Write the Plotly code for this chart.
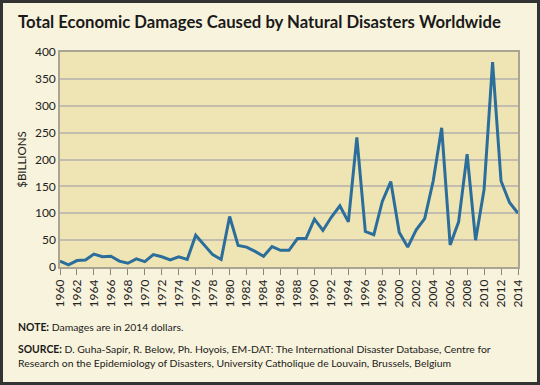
import plotly.graph_objects as go

years = list(range(1960, 2015))
damages = [11, 4, 12, 13, 24, 19, 20, 11, 7, 15,
           10, 23, 19, 13, 19, 14, 59, 40, 23, 14,
           94, 40, 37, 29, 20, 38, 31, 31, 53, 53,
           89, 68, 93, 114, 84, 241, 66, 60, 122, 159,
           64, 37, 69, 90, 160, 259, 41, 84, 210, 50,
           144, 381, 160, 120, 100]
tick_years = list(range(1960, 2015, 2))
y_ticks = [0, 50, 100, 150, 200, 250, 300, 350, 400]

W, H = 540, 385
L, R, T, B = 60, 22, 52, 118
pw, ph = W - L - R, H - T - B

def px(x):
    return (x - L) / pw

def py(y):
    return (H - B - y) / ph

fig = go.Figure()
fig.add_trace(go.Scatter(x=years, y=damages, mode="lines",
                         line=dict(color="#2c6e9b", width=3), hoverinfo="x+y"))

fig.update_layout(
    width=W, height=H,
    margin=dict(l=L, r=R, t=T, b=B),
    paper_bgcolor="#f8f3dc",
    plot_bgcolor="#efe5b4",
    showlegend=False,
    font=dict(family="Lato", color="#222222", size=11),
    xaxis=dict(range=[1960, 2014], tickvals=tick_years, ticktext=[str(y) for y in tick_years],
               tickangle=-90, ticks="outside", ticklen=6, tickcolor="#8a877a",
               showgrid=False, zeroline=False, showline=True, linecolor="#a9a592", linewidth=1.5,
               mirror=True, tickfont=dict(size=12, family="Lato")),
    yaxis=dict(range=[0, 400], tickvals=y_ticks, showgrid=True, gridcolor="#c2bdae", gridwidth=2,
               zeroline=False, showline=True, linecolor="#a9a592", linewidth=1.5, mirror=True,
               ticks="", tickfont=dict(size=12, family="Lato"),
               title=dict(text="$BILLIONS", font=dict(size=11.5, family="Lato"), standoff=6)),
)

fig.add_annotation(text="<b>Total Economic Damages Caused by Natural Disasters Worldwide</b>",
                   xref="paper", yref="paper", x=px(16), y=py(22), xanchor="left", yanchor="middle",
                   showarrow=False, font=dict(size=16.7, family="Lato", color="#1a1a1a"))
fig.add_annotation(text="<b>NOTE:</b> Damages are in 2014 dollars.",
                   xref="paper", yref="paper", x=px(16), y=py(327), xanchor="left", yanchor="middle",
                   showarrow=False, font=dict(size=10.4, family="Lato", color="#1a1a1a"))
fig.add_annotation(text="<b>SOURCE:</b> D. Guha-Sapir, R. Below, Ph. Hoyois, EM-DAT: The International Disaster Database, Centre for<br>Research on the Epidemiology of Disasters, University Catholique de Louvain, Brussels, Belgium",
                   xref="paper", yref="paper", x=px(16), y=py(356), xanchor="left", yanchor="middle",
                   align="left", showarrow=False, font=dict(size=10.4, family="Lato", color="#1a1a1a"))

fig.add_shape(type="rect", xref="paper", yref="paper",
              x0=px(1.5), x1=px(W - 1.5), y0=py(H - 1.5), y1=py(1.5),
              line=dict(color="#333333", width=3), fillcolor="rgba(0,0,0,0)", layer="above")

fig.write_html("out.html", config={"displayModeBar": False},
               post_script="document.body.style.margin='0';document.body.style.overflow='hidden';")
